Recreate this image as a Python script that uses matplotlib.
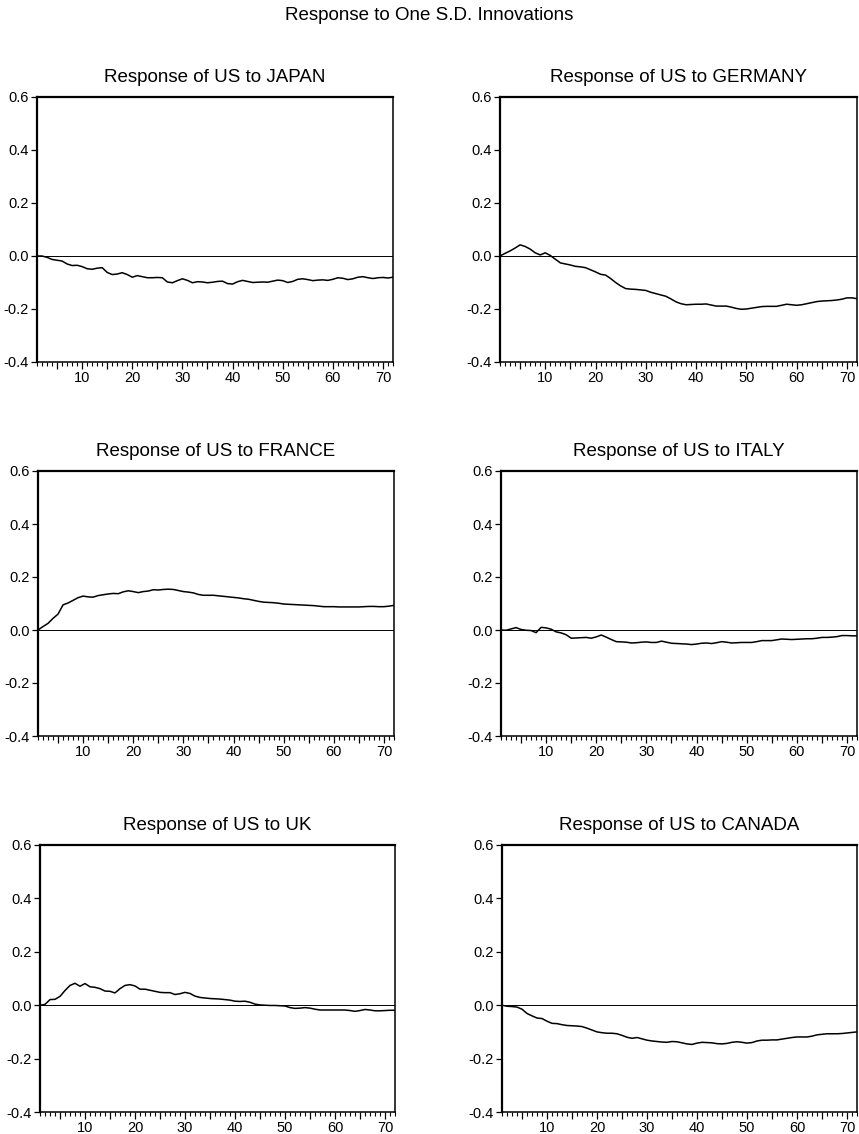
import matplotlib
matplotlib.use("Agg")
import matplotlib.pyplot as plt
from matplotlib.ticker import MultipleLocator, FuncFormatter
import numpy as np

plt.rcParams["font.family"] = ["Liberation Sans", "DejaVu Sans"]

# Impulse responses of US, periods 1..72
periods = np.arange(1, 73)

japan = [
    0.000, 0.000, -0.005, -0.013, -0.016, -0.019, -0.030, -0.036, -0.035, -0.040,
    -0.048, -0.050, -0.046, -0.044, -0.062, -0.070, -0.068, -0.063, -0.070, -0.080,
    -0.074, -0.078, -0.082, -0.082, -0.081, -0.082, -0.098, -0.101, -0.093, -0.086,
    -0.092, -0.101, -0.097, -0.098, -0.101, -0.099, -0.096, -0.095, -0.104, -0.106,
    -0.097, -0.092, -0.096, -0.100, -0.099, -0.098, -0.099, -0.095, -0.091, -0.093,
    -0.100, -0.096, -0.088, -0.086, -0.089, -0.093, -0.091, -0.090, -0.092, -0.088,
    -0.082, -0.084, -0.089, -0.086, -0.080, -0.078, -0.082, -0.085, -0.082, -0.081,
    -0.083, -0.080,
]
germany = [
    0.000, 0.010, 0.019, 0.030, 0.042, 0.036, 0.026, 0.012, 0.004, 0.012,
    0.002, -0.012, -0.026, -0.030, -0.034, -0.039, -0.041, -0.044, -0.052, -0.060,
    -0.069, -0.072, -0.085, -0.100, -0.113, -0.123, -0.125, -0.126, -0.128, -0.130,
    -0.137, -0.142, -0.147, -0.152, -0.162, -0.173, -0.180, -0.184, -0.183, -0.182,
    -0.182, -0.181, -0.185, -0.189, -0.189, -0.189, -0.193, -0.198, -0.201, -0.200,
    -0.197, -0.194, -0.191, -0.190, -0.190, -0.190, -0.186, -0.182, -0.184, -0.186,
    -0.184, -0.180, -0.176, -0.172, -0.170, -0.169, -0.168, -0.166, -0.163, -0.158,
    -0.158, -0.161,
]
france = [
    0.000, 0.013, 0.025, 0.044, 0.060, 0.095, 0.102, 0.112, 0.122, 0.128,
    0.125, 0.124, 0.130, 0.133, 0.136, 0.138, 0.137, 0.144, 0.148, 0.145,
    0.141, 0.145, 0.147, 0.152, 0.151, 0.153, 0.154, 0.153, 0.149, 0.145,
    0.143, 0.140, 0.134, 0.131, 0.131, 0.131, 0.129, 0.127, 0.125, 0.123,
    0.121, 0.118, 0.116, 0.112, 0.108, 0.105, 0.104, 0.103, 0.101, 0.098,
    0.097, 0.096, 0.095, 0.094, 0.093, 0.092, 0.090, 0.088, 0.088, 0.088,
    0.087, 0.087, 0.087, 0.087, 0.087, 0.088, 0.089, 0.089, 0.088, 0.088,
    0.090, 0.093,
]
italy = [
    0.000, -0.001, 0.004, 0.009, 0.002, -0.001, -0.002, -0.010, 0.010, 0.008,
    0.003, -0.007, -0.011, -0.018, -0.031, -0.030, -0.029, -0.028, -0.031, -0.026,
    -0.019, -0.027, -0.036, -0.044, -0.045, -0.046, -0.049, -0.048, -0.046, -0.045,
    -0.047, -0.047, -0.042, -0.046, -0.050, -0.051, -0.052, -0.053, -0.055, -0.053,
    -0.050, -0.049, -0.051, -0.048, -0.044, -0.046, -0.049, -0.048, -0.047, -0.047,
    -0.047, -0.044, -0.040, -0.040, -0.040, -0.037, -0.034, -0.035, -0.036, -0.035,
    -0.034, -0.033, -0.033, -0.031, -0.028, -0.028, -0.027, -0.025, -0.021, -0.021,
    -0.022, -0.022,
]
uk = [
    0.000, 0.003, 0.021, 0.022, 0.033, 0.055, 0.074, 0.082, 0.071, 0.081,
    0.069, 0.067, 0.062, 0.053, 0.052, 0.046, 0.062, 0.074, 0.077, 0.072,
    0.060, 0.060, 0.056, 0.052, 0.048, 0.047, 0.047, 0.040, 0.043, 0.048,
    0.044, 0.034, 0.029, 0.027, 0.025, 0.024, 0.023, 0.021, 0.019, 0.015,
    0.014, 0.015, 0.011, 0.004, 0.001, 0.000, -0.001, -0.001, -0.002, -0.003,
    -0.009, -0.012, -0.011, -0.009, -0.011, -0.015, -0.018, -0.018, -0.018, -0.018,
    -0.018, -0.018, -0.020, -0.023, -0.020, -0.016, -0.018, -0.021, -0.021, -0.020,
    -0.019, -0.019,
]
canada = [
    0.000, -0.004, -0.005, -0.007, -0.015, -0.031, -0.040, -0.048, -0.050, -0.060,
    -0.068, -0.069, -0.073, -0.076, -0.077, -0.078, -0.080, -0.086, -0.093, -0.100,
    -0.103, -0.105, -0.105, -0.107, -0.113, -0.120, -0.124, -0.121, -0.126, -0.131,
    -0.134, -0.136, -0.138, -0.139, -0.136, -0.137, -0.141, -0.145, -0.147, -0.142,
    -0.139, -0.140, -0.141, -0.144, -0.145, -0.143, -0.139, -0.137, -0.139, -0.142,
    -0.140, -0.134, -0.131, -0.131, -0.130, -0.130, -0.127, -0.124, -0.121, -0.119,
    -0.119, -0.119, -0.116, -0.111, -0.109, -0.107, -0.107, -0.107, -0.106, -0.104,
    -0.102, -0.100,
]

titles = [
    "Response of US to JAPAN", "Response of US to GERMANY",
    "Response of US to FRANCE", "Response of US to ITALY",
    "Response of US to UK", "Response of US to CANADA",
]
series = [japan, germany, france, italy, uk, canada]

y_ticks = [-0.4, -0.2, 0.0, 0.2, 0.4, 0.6]
y_labels = ["-0.4", "-0.2", "0.0", "0.2", "0.4", "0.6"]

W, H = 859, 1134
# axes boxes in pixels: left, top, right, bottom
boxes = [
    (37, 97, 393, 362), (500, 97, 857, 362),
    (38, 471, 394, 736), (501, 471, 857, 736),
    (40, 845, 395, 1112), (502, 845, 857, 1112),
]


def every_tenth(v, pos):
    # long ticks every 5 periods, labels only on the tens
    v = int(round(v))
    return str(v) if v % 10 == 0 else ""


fig = plt.figure(figsize=(W / 100, H / 100), dpi=100)
fig.text(0.5, 1 - 15 / H, "Response to One S.D. Innovations",
         ha="center", va="center", fontsize=13.5)

for (l, t, r, b), title, vals in zip(boxes, titles, series):
    ax = fig.add_axes([l / W, 1 - b / H, (r - l) / W, (b - t) / H])
    ax.plot(periods, vals, color="black", lw=1.1)
    ax.axhline(0, color="black", lw=0.7)
    ax.set_xlim(1, 72)
    ax.set_ylim(-0.4, 0.6)
    ax.set_yticks(y_ticks)
    ax.set_yticklabels(y_labels, fontsize=10.5)
    ax.xaxis.set_major_locator(MultipleLocator(5))
    ax.xaxis.set_minor_locator(MultipleLocator(1))
    ax.xaxis.set_major_formatter(FuncFormatter(every_tenth))
    ax.tick_params(axis="x", which="major", length=5, width=0.9, pad=1.5,
                   labelsize=10.5)
    ax.tick_params(axis="x", which="minor", length=3, width=0.8)
    ax.tick_params(axis="y", length=4, width=0.9, pad=2)
    for side in ["left", "top"]:
        ax.spines[side].set_linewidth(1.6)
    for side in ["right", "bottom"]:
        ax.spines[side].set_linewidth(1.1)
    ax.set_title(title, fontsize=13.5, pad=11)

fig.savefig("out.png", dpi=100)
